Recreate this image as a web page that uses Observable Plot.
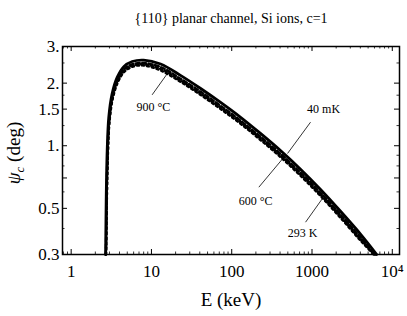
<!DOCTYPE html>
<html><head><meta charset="utf-8">
<script src="https://cdn.jsdelivr.net/npm/d3@7"></script>
<script src="https://cdn.jsdelivr.net/npm/@observablehq/plot@0.6"></script>
<style>body{margin:0;background:#fff} svg, svg text{font-family:"Liberation Serif","Times New Roman",serif !important}</style>
</head><body><div id="chart"></div>
<script>
const title = "{110} planar channel, Si ions, c=1";
const xLabel = "E (keV)";
const xTicks = [1, 10, 100, 1000, 10000];
const xTickLabels = ["1", "10", "100", "1000", "10⁴"];
const xMinor = [0.8, 0.9, 2, 3, 4, 5, 6, 7, 8, 9, 20, 30, 40, 50, 60, 70, 80, 90, 200, 300, 400, 500, 600, 700, 800, 900, 2000, 3000, 4000, 5000, 6000, 7000, 8000, 9000];
const yTicks = [0.3, 0.5, 0.7, 1, 1.5, 2, 3];
const yTickLabels = ["0.3", "0.5", "0.7", "1.", "1.5", "2.", "3."];
const yMinor = [0.4, 0.6, 0.8, 0.9, 1.25, 1.75, 2.5];

// series (E in keV, psi in deg)
const E_40mK   = [2.68, 2.69, 2.73, 2.81, 2.94, 3.24, 3.74, 4.52, 5.76, 8.0, 13, 23, 41, 72, 129, 228, 405, 719, 1277, 2266, 4018, 6400];
const psi_40mK = [0.30, 0.313, 0.545, 0.949, 1.37, 1.78, 2.13, 2.40, 2.54, 2.58, 2.47, 2.18, 1.885, 1.62, 1.37, 1.146, 0.948, 0.771, 0.616, 0.484, 0.376, 0.30];
const E_293K   = [2.70, 2.71, 2.76, 2.84, 2.98, 3.28, 3.79, 4.58, 5.8, 8.0, 13, 23, 41, 72, 129, 228, 405, 719, 1277, 2266, 4018, 6150];
const psi_293K = [0.30, 0.313, 0.54, 0.935, 1.345, 1.745, 2.08, 2.335, 2.465, 2.50, 2.39, 2.10, 1.82, 1.56, 1.32, 1.105, 0.915, 0.744, 0.594, 0.467, 0.363, 0.30];
const E_600C   = [2.71, 2.72, 2.77, 2.86, 3.0, 3.3, 3.82, 4.6, 5.82, 8.0, 13, 23, 41, 72, 129, 228, 405, 719, 1277, 2266, 4018, 6000];
const psi_600C = [0.30, 0.312, 0.535, 0.925, 1.33, 1.725, 2.055, 2.30, 2.43, 2.46, 2.34, 2.06, 1.78, 1.53, 1.295, 1.083, 0.896, 0.729, 0.582, 0.457, 0.355, 0.30];
const E_900C   = [2.72, 2.73, 2.78, 2.87, 3.01, 3.32, 3.84, 4.62, 5.85, 8.0, 13, 23, 41, 72, 129, 228, 405, 719, 1277, 2266, 4018, 5850];
const psi_900C = [0.30, 0.312, 0.53, 0.915, 1.315, 1.705, 2.03, 2.27, 2.40, 2.43, 2.30, 2.03, 1.755, 1.505, 1.275, 1.066, 0.882, 0.717, 0.573, 0.45, 0.35, 0.30];

// annotations
const labelText = ["900 °C", "40 mK", "600 °C", "293 K"];
const labelE    = [10.6, 1393, 198, 762];
const labelPsi  = [1.527, 1.494, 0.539, 0.378];
const leadE1   = [10.2, 959, 217.6, 831];
const leadPsi1 = [1.757, 1.298, 0.632, 0.429];
const leadE2   = [16.8, 496, 455, 1342];
const leadPsi2 = [2.30, 0.918, 0.888, 0.556];

const mk = (E, P) => E.map((e, i) => ({E: e, psi: P[i]}));
const s40 = mk(E_40mK, psi_40mK), s293 = mk(E_293K, psi_293K), s600 = mk(E_600C, psi_600C), s900 = mk(E_900C, psi_900C);
const labels = labelText.map((t, i) => ({t, E: labelE[i], psi: labelPsi[i]}));
const leads = leadE1.map((e, i) => ({x1: e, y1: leadPsi1[i], x2: leadE2[i], y2: leadPsi2[i]}));

const fmtX = d => xTickLabels[xTicks.indexOf(d)];
const fmtY = d => yTickLabels[yTicks.indexOf(d)];
const F = '"Liberation Serif", "Times New Roman", serif';
const W = 407, H = 316, mL = 62, mR = 8, mT = 46, mB = 62;
const iw = W - mL - mR, ih = H - mT - mB;
const big = 5, small = 2.5;

const chart = Plot.plot({
  width: W, height: H,
  marginLeft: mL, marginRight: mR, marginTop: mT, marginBottom: mB,
  style: {fontFamily: F, fontSize: "17px", background: "#fff", color: "#000"},
  x: {type: "log", domain: [0.78, 12300]},
  y: {type: "log", domain: [0.3, 3]},
  marks: [
    Plot.axisX(xTicks, {anchor: "bottom", tickSize: 0, tickPadding: 10, tickFormat: fmtX, label: null, fontSize: 17}),
    Plot.axisY(yTicks, {anchor: "left", tickSize: 0, tickPadding: 3, tickFormat: fmtY, label: null, fontSize: 17}),
    // inward ticks
    Plot.tickX(xTicks, {x: d => d, insetTop: ih - big, stroke: "#000"}),
    Plot.tickX(xMinor, {x: d => d, insetTop: ih - small, stroke: "#000", strokeWidth: 0.8}),
    Plot.tickX(xTicks, {x: d => d, insetBottom: ih - big, stroke: "#000"}),
    Plot.tickX(xMinor, {x: d => d, insetBottom: ih - small, stroke: "#000", strokeWidth: 0.8}),
    Plot.tickY(yTicks, {y: d => d, insetRight: iw - big, stroke: "#000"}),
    Plot.tickY(yMinor, {y: d => d, insetRight: iw - small, stroke: "#000", strokeWidth: 0.8}),
    Plot.tickY(yTicks, {y: d => d, insetLeft: iw - big, stroke: "#000"}),
    Plot.tickY(yMinor, {y: d => d, insetLeft: iw - small, stroke: "#000", strokeWidth: 0.8}),
    Plot.line(s900, {x: "E", y: "psi", stroke: "#000", strokeWidth: 2.4, strokeDasharray: "2,3", curve: "catmull-rom"}),
    Plot.line(s600, {x: "E", y: "psi", stroke: "#000", strokeWidth: 2.4, strokeDasharray: "2.5,2.5", curve: "catmull-rom"}),
    Plot.line(s293, {x: "E", y: "psi", stroke: "#000", strokeWidth: 2.4, strokeDasharray: "4,2.5", curve: "catmull-rom"}),
    Plot.line(s40, {x: "E", y: "psi", stroke: "#000", strokeWidth: 2.8, curve: "catmull-rom"}),
    Plot.link(leads, {x1: "x1", y1: "y1", x2: "x2", y2: "y2", stroke: "#000", strokeWidth: 0.8}),
    Plot.text(labels, {x: "E", y: "psi", text: "t", fontSize: 12, fill: "#000"}),
    Plot.frame({stroke: "#000", strokeWidth: 1.5}),
    Plot.text([title], {frameAnchor: "top", dy: -33, text: d => d, fontSize: 14, fill: "#000"}),
    Plot.text([xLabel], {frameAnchor: "bottom", dy: 51, text: d => d, fontSize: 19, fill: "#000"})
  ]
});
document.getElementById("chart").appendChild(chart);

// y-axis label with italic psi and subscript c
const svg = d3.select(chart);
const yl = svg.append("text")
  .attr("transform", "translate(20,153) rotate(-90)")
  .attr("text-anchor", "middle")
  .attr("font-family", F).attr("font-size", 19).attr("fill", "#000");
yl.append("tspan").attr("font-style", "italic").text("ψ");
yl.append("tspan").attr("font-style", "italic").attr("font-size", 13).attr("dy", 4).text("c");
yl.append("tspan").attr("dy", -4).text(" (deg)");
</script></body></html>
